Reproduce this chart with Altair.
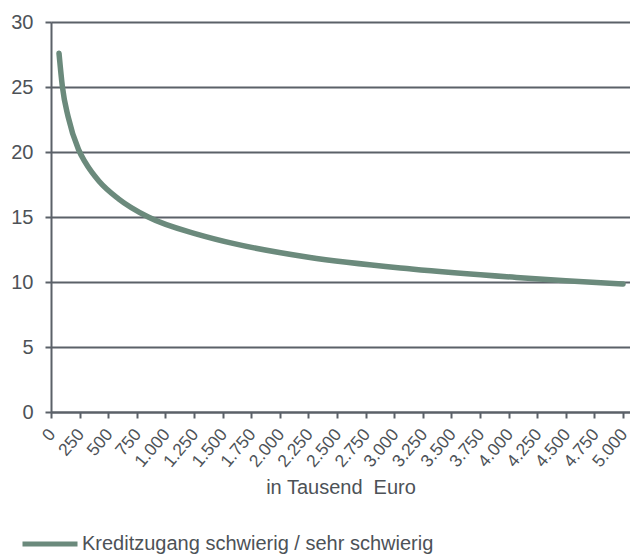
import altair as alt
import pandas as pd

# Kreditvolumen in Tausend Euro und Anteil (in %) mit schwierigem Kreditzugang
volumen = [70, 100, 150, 240, 300, 420, 590, 850, 1290, 1600, 2250, 3150, 4070, 4500, 5000]
anteil = [27.6, 25.0, 22.7, 20.2, 19.2, 17.75, 16.4, 15.0, 13.65, 12.95, 11.9, 11.0, 10.35, 10.1, 9.85]
serie = "Kreditzugang schwierig / sehr schwierig"

x_ticks = list(range(0, 5001, 250))
y_ticks = [0, 5, 10, 15, 20, 25, 30]

df = pd.DataFrame({"volumen": volumen, "anteil": anteil, "serie": [serie] * len(volumen)})

FONT = "Liberation Sans"
TEXT = "#4d5257"
GRID = "#5b6168"
LINE = "#6b8a7c"

chart = (
    alt.Chart(df)
    .mark_line(strokeWidth=5.5, interpolate="monotone", strokeCap="round")
    .encode(
        x=alt.X(
            "volumen:Q",
            scale=alt.Scale(domain=[0, 5061], nice=False, zero=False),
            axis=alt.Axis(
                values=x_ticks,
                title="in Tausend\u00a0 Euro",
                labelExpr="replace(format(datum.value, ','), ',', '.')",
                labelAngle=-50,
                labelAlign="right",
                labelBaseline="middle",
                labelPadding=13,
                labelOffset=1,
                labelFontSize=17.5,
                labelColor=TEXT,
                labelFont=FONT,
                tickSize=6,
                tickColor=GRID,
                tickWidth=2,
                domainColor=GRID,
                domainWidth=2,
                grid=False,
                titleFont=FONT,
                titleFontSize=20,
                titleFontWeight="normal",
                titleColor=TEXT,
                titleBaseline="middle",
                titleY=75,
                labelOverlap=False,
            ),
        ),
        y=alt.Y(
            "anteil:Q",
            scale=alt.Scale(domain=[0, 30], nice=False),
            axis=alt.Axis(
                values=y_ticks,
                title=None,
                labelFontSize=20,
                labelColor=TEXT,
                labelFont=FONT,
                labelPadding=12,
                tickSize=6,
                tickColor=GRID,
                tickWidth=2,
                domainColor=GRID,
                domainWidth=2,
                grid=True,
                gridColor=GRID,
                gridWidth=2,
            ),
        ),
        color=alt.Color(
            "serie:N",
            scale=alt.Scale(domain=[serie], range=[LINE]),
            legend=alt.Legend(
                title=None,
                orient="none",
                legendX=-31,
                legendY=492,
                symbolType="stroke",
                symbolSize=3025,
                symbolStrokeWidth=5,
                labelFontSize=20,
                labelFont=FONT,
                labelColor=TEXT,
                labelOffset=2,
                labelLimit=500,
            ),
        ),
    )
    .properties(
        width=579,
        height=390,
        padding={"left": 51, "top": 22, "right": 0, "bottom": 146},
        autosize=alt.AutoSizeParams(type="none"),
    )
    .configure_view(stroke=None)
    .configure(background="white")
)

chart.save("out.html", embed_options={"renderer": "svg", "actions": False})
